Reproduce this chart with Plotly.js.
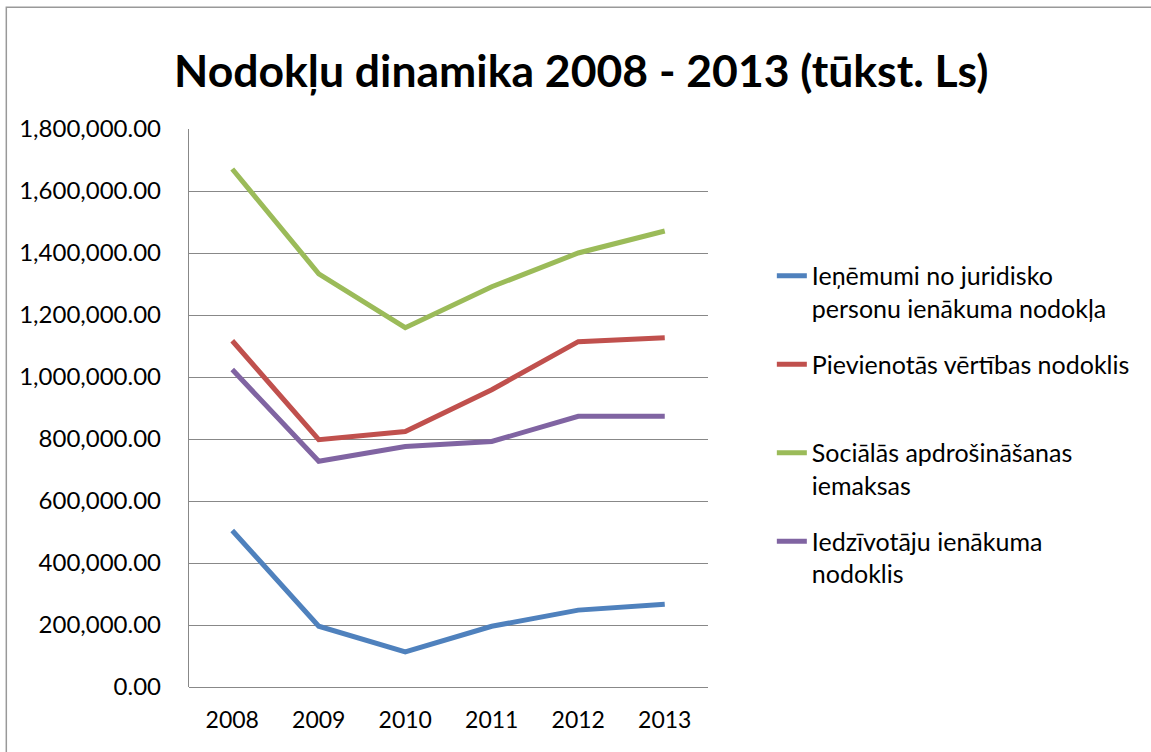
<!DOCTYPE html>
<html>
<head>
<meta charset="utf-8">
<script src="https://cdn.plot.ly/plotly-3.0.1.min.js"></script>
<style>
html,body{margin:0;padding:0;background:#fff;}
#chart{width:1151px;height:752px;}
</style>
</head>
<body>
<div id="chart"></div>
<script>
const years = ["2008", "2009", "2010", "2011", "2012", "2013"];
const seriesNames = [
  "Ieņēmumi no juridisko<br>personu ienākuma nodokļa",
  "Pievienotās vērtības nodoklis<br>\u00a0",
  "Sociālās apdrošināšanas<br>iemaksas",
  "Iedzīvotāju ienākuma<br>nodoklis"
];
const juridisko = [505000, 196000, 113000, 196000, 248000, 267000];
const pvn = [1117000, 798000, 824000, 959000, 1114000, 1127000];
const socialas = [1671000, 1333000, 1159000, 1291000, 1400000, 1471000];
const iedzivotaju = [1024000, 728000, 776000, 792000, 873000, 873000];
const yTicks = [0, 200000, 400000, 600000, 800000, 1000000, 1200000, 1400000, 1600000, 1800000];

const colors = ["#4F81BD", "#C0504D", "#9BBB59", "#8064A2"];
const values = [juridisko, pvn, socialas, iedzivotaju];

const traces = values.map((v, i) => ({
  x: years,
  y: v,
  type: "scatter",
  mode: "lines",
  name: seriesNames[i],
  legendgroup: "g" + i,
  line: {color: colors[i], width: 5},
  hoverinfo: "x+y"
}));

const font = "Lato, 'Open Sans', sans-serif";

const layout = {
  width: 1151,
  height: 752,
  margin: {l: 189, r: 443, t: 129, b: 65},
  paper_bgcolor: "#fff",
  plot_bgcolor: "#fff",
  font: {family: font, color: "#000", size: 23},
  title: {
    text: "<b>Nodokļu dinamika 2008 - 2013 (tūkst. Ls)</b>",
    font: {family: font, size: 44.5, color: "#000"},
    x: 0.505, xanchor: "center",
    y: 0.905, yanchor: "middle"
  },
  xaxis: {
    type: "category",
    range: [-0.5, 5.5],
    showgrid: false,
    showline: false,
    zeroline: false,
    ticks: "",
    ticklabelstandoff: 17,
    tickfont: {family: font, size: 23, color: "#000"}
  },
  yaxis: {
    range: [0, 1800000],
    tickvals: yTicks,
    tickformat: ",.2f",
    showgrid: true,
    gridcolor: "#888888",
    gridwidth: 1.3,
    showline: true,
    linecolor: "#888888",
    linewidth: 1.3,
    zeroline: true,
    zerolinecolor: "#888888",
    zerolinewidth: 1.3,
    ticks: "",
    ticklabelstandoff: 22,
    tickfont: {family: font, size: 24, color: "#000"}
  },
  showlegend: true,
  legend: {
    x: 1.123, xanchor: "left",
    y: 0.778, yanchor: "top",
    valign: "top",
    traceorder: "grouped",
    tracegroupgap: 20.5,
    font: {family: font, size: 25, color: "#000"},
    bgcolor: "rgba(0,0,0,0)"
  },
  shapes: [{
    type: "rect", xref: "paper", yref: "paper",
    x0: -0.352, x1: 2.0, y0: -0.2, y1: 1.218,
    line: {color: "#999999", width: 1.5},
    fillcolor: "rgba(0,0,0,0)",
    layer: "below"
  }]
};

Plotly.newPlot("chart", traces, layout, {displayModeBar: false, responsive: false});
</script>
</body>
</html>
